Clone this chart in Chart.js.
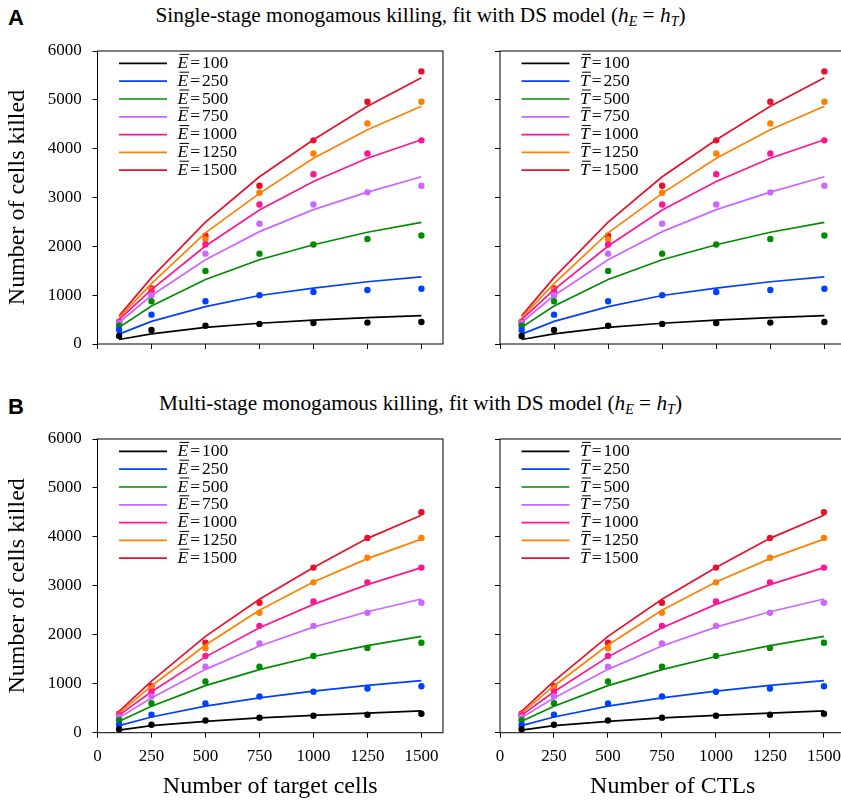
<!DOCTYPE html>
<html>
<head>
<meta charset="utf-8">
<script src="https://cdn.jsdelivr.net/npm/chart.js@4.4.1/dist/chart.umd.min.js"></script>
<style>
body{margin:0;width:841px;height:804px;overflow:hidden;background:#fff;position:relative;font-family:"Liberation Serif",serif}
.box{position:absolute}
.letter{position:absolute;font:bold 22px "Liberation Sans",Arial,sans-serif}
.ttl{position:absolute;left:0;width:841px;text-align:center;font-size:21.3px;line-height:24px;white-space:nowrap}
.ttl sub{font-size:14px;vertical-align:-4px;line-height:0}
</style>
</head>
<body>
<div class="letter" style="left:8px;top:5px">A</div>
<div class="ttl" style="top:3px">Single-stage monogamous killing, fit with DS model (<i>h</i><sub><i>E</i></sub> = <i>h</i><sub><i>T</i></sub>)</div>
<div class="letter" style="left:8px;top:394px">B</div>
<div class="ttl" style="top:391px">Multi-stage monogamous killing, fit with DS model (<i>h</i><sub><i>E</i></sub> = <i>h</i><sub><i>T</i></sub>)</div>

<div class="box" style="left:0;top:30px;width:450px;height:340px"><canvas id="aLeft"></canvas></div>
<div class="box" style="left:450px;top:30px;width:400px;height:340px"><canvas id="aRight"></canvas></div>
<div class="box" style="left:0;top:418px;width:450px;height:386px"><canvas id="bLeft"></canvas></div>
<div class="box" style="left:450px;top:418px;width:400px;height:386px"><canvas id="bRight"></canvas></div>

<script>
const xCells = [100, 250, 500, 750, 1000, 1250, 1500];
const groupSizes = [100, 250, 500, 750, 1000, 1250, 1500];
const xTicks = [0, 250, 500, 750, 1000, 1250, 1500];
const yTicks = [0, 1000, 2000, 3000, 4000, 5000, 6000];
const seriesColors = ['#000000', '#0040ff', '#008c00', '#cc66ff', '#ff1493', '#ff8000', '#e8102a'];

// one row per group size (100 ... 1500), columns follow xCells
// single-stage: simulation (dots) and DS fit (lines)
const singleSim = [
    [163, 288, 373, 412, 431, 438, 451],
    [288, 601, 876, 1000, 1065, 1105, 1131],
    [373, 876, 1497, 1850, 2039, 2150, 2222],
    [425, 1000, 1850, 2464, 2856, 3105, 3242],
    [440, 1059, 2039, 2856, 3477, 3902, 4170],
    [445, 1105, 2144, 3098, 3902, 4516, 4961],
    [455, 1137, 2216, 3242, 4170, 4961, 5582]
];
const singleFit = [
    [92, 209, 340, 425, 490, 542, 582],
    [203, 464, 765, 993, 1144, 1275, 1373],
    [340, 778, 1320, 1725, 2033, 2288, 2490],
    [440, 993, 1725, 2301, 2752, 3111, 3425],
    [497, 1115, 2007, 2745, 3327, 3804, 4183],
    [540, 1235, 2275, 3085, 3804, 4386, 4869],
    [575, 1360, 2497, 3425, 4183, 4869, 5451]
];
// multi-stage
const multiSim = [
    [72, 163, 248, 307, 346, 366, 386],
    [163, 366, 595, 739, 837, 902, 948],
    [255, 601, 1046, 1346, 1569, 1732, 1837],
    [320, 739, 1346, 1824, 2183, 2451, 2654],
    [350, 837, 1569, 2183, 2680, 3072, 3373],
    [370, 902, 1725, 2451, 3072, 3575, 3980],
    [390, 948, 1837, 2654, 3373, 3980, 4503]
];
const multiFit = [
    [52, 144, 232, 301, 353, 399, 444],
    [144, 320, 542, 712, 850, 967, 1065],
    [232, 542, 961, 1288, 1556, 1778, 1967],
    [308, 709, 1294, 1771, 2157, 2471, 2732],
    [360, 837, 1549, 2144, 2621, 3026, 3373],
    [399, 955, 1791, 2503, 3078, 3556, 3954],
    [437, 1055, 1967, 2725, 3373, 3970, 4444]
];

const serif = '"Liberation Serif", "Times New Roman", serif';

const framePlugin = {
    id: 'frame',
    afterDatasetsDraw(chart) {
        const {ctx, chartArea: a} = chart;
        ctx.save();
        ctx.strokeStyle = '#000';
        ctx.lineWidth = 1;
        ctx.strokeRect(a.left, a.top, a.right - a.left, a.bottom - a.top);
        ctx.restore();
    }
};

// legend drawn inside the plot, top left, like matplotlib's
const innerLegend = {
    id: 'innerLegend',
    afterDraw(chart) {
        const {ctx, chartArea: a} = chart;
        const sym = chart.options.plugins.innerLegend.sym;
        ctx.save();
        let y = a.top + 12.4;
        chart.data.datasets.forEach(ds => {
            if (!ds.label) return;
            ctx.strokeStyle = ds.borderColor;
            ctx.lineWidth = 1.7;
            ctx.beginPath();
            ctx.moveTo(a.left + 21.5, y);
            ctx.lineTo(a.left + 69.5, y);
            ctx.stroke();
            let x = a.left + 80;
            ctx.fillStyle = '#000';
            ctx.textBaseline = 'middle';
            ctx.font = 'italic 17.5px ' + serif;
            ctx.fillText(sym, x, y);
            const w = ctx.measureText(sym).width;
            ctx.lineWidth = 1;
            ctx.strokeStyle = '#000';
            ctx.beginPath();
            ctx.moveTo(x + 2, y - 9);
            ctx.lineTo(x + w + 1, y - 9);
            ctx.stroke();
            ctx.font = '17.5px ' + serif;
            x += w + 2;
            ctx.fillText('=', x, y);
            x += ctx.measureText('=').width + 2;
            ctx.fillText(ds.label, x, y);
            y += 17.8;
        });
        ctx.restore();
    }
};

function makeChart(id, cfg) {
    const datasets = [];
    groupSizes.forEach((g, i) => {
        datasets.push({
            label: String(g),
            data: xCells.map((x, j) => ({x: x, y: cfg.fit[i][j]})),
            borderColor: seriesColors[i],
            borderWidth: 1.7,
            pointRadius: 0,
            tension: 0
        });
        datasets.push({
            data: xCells.map((x, j) => ({x: x, y: cfg.sim[i][j]})),
            showLine: false,
            pointRadius: 3.2,
            pointBorderWidth: 0,
            backgroundColor: seriesColors[i],
            borderColor: seriesColors[i]
        });
    });

    new Chart(document.getElementById(id), {
        type: 'line',
        data: {datasets: datasets},
        plugins: [framePlugin, innerLegend],
        options: {
            responsive: true,
            maintainAspectRatio: false,
            animation: false,
            layout: {padding: {top: cfg.padTop, right: cfg.padRight, left: 0, bottom: 0}},
            plugins: {
                legend: {display: false},
                tooltip: {enabled: false},
                innerLegend: {sym: cfg.sym}
            },
            scales: {
                x: {
                    type: 'linear',
                    min: 0,
                    max: 1600,
                    afterBuildTicks: s => { s.ticks = xTicks.map(v => ({value: v})); },
                    afterFit: s => { s.height = cfg.xHeight; },
                    border: {display: false},
                    grid: {drawOnChartArea: false, drawTicks: true, tickLength: 5, color: '#000'},
                    ticks: {
                        color: '#000',
                        padding: 8.8,
                        maxRotation: 0,
                        font: {family: serif, size: 17},
                        callback: v => cfg.showX ? String(v) : ''
                    },
                    title: {
                        display: cfg.showX,
                        text: cfg.xTitle,
                        color: '#000',
                        font: {family: serif, size: 24, lineHeight: 1.2},
                        padding: {top: 0, bottom: 2.6}
                    }
                },
                y: {
                    min: 0,
                    max: 6000,
                    afterBuildTicks: s => { s.ticks = yTicks.map(v => ({value: v})); },
                    afterFit: s => { s.width = cfg.yWidth; },
                    border: {display: false},
                    grid: {drawOnChartArea: false, drawTicks: true, tickLength: 5, color: '#000'},
                    ticks: {
                        color: '#000',
                        padding: 10.8,
                        font: {family: serif, size: 17},
                        callback: v => cfg.showY ? String(v) : ''
                    },
                    title: {
                        display: cfg.showY,
                        text: 'Number of cells killed',
                        color: '#000',
                        font: {family: serif, size: 24, lineHeight: 1.2},
                        padding: {top: 3.6, bottom: 0}
                    }
                }
            }
        }
    });
}

makeChart('aLeft', {sim: singleSim, fit: singleFit, sym: 'E', showY: true, showX: false,
    yWidth: 97.5, xHeight: 26, padTop: 8.3, padRight: 7});
makeChart('aRight', {sim: singleSim, fit: singleFit, sym: 'T', showY: false, showX: false,
    yWidth: 50, xHeight: 26, padTop: 8.3, padRight: 4});
makeChart('bLeft', {sim: multiSim, fit: multiFit, sym: 'E', showY: true, showX: true,
    xTitle: 'Number of target cells', yWidth: 97.5, xHeight: 71.3, padTop: 8.7, padRight: 7});
makeChart('bRight', {sim: multiSim, fit: multiFit, sym: 'T', showY: false, showX: true,
    xTitle: 'Number of CTLs', yWidth: 50, xHeight: 71.3, padTop: 8.7, padRight: 4});
</script>
</body>
</html>
